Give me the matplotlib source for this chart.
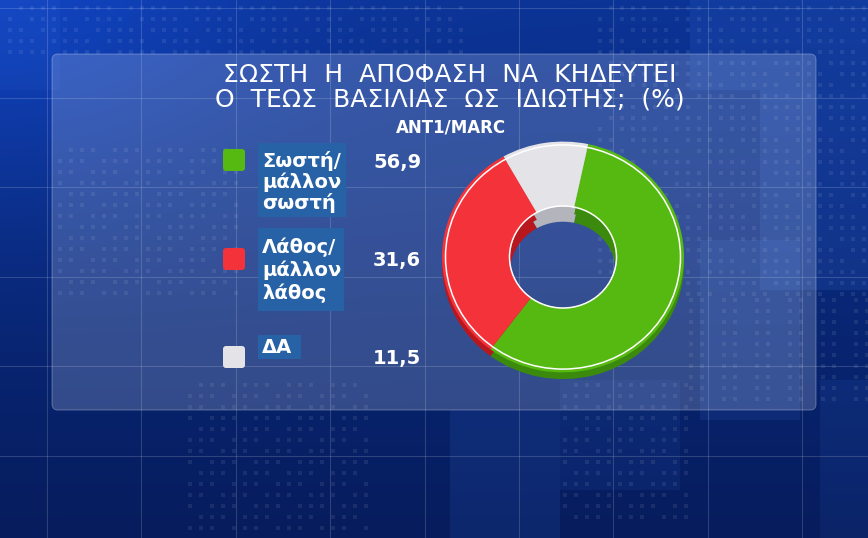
import numpy as np
import matplotlib
matplotlib.use('Agg')
import matplotlib.pyplot as plt
from matplotlib.patches import FancyBboxPatch, Rectangle, Circle

plt.rcParams['font.family'] = ['DejaVu Sans']

title_lines = ['ΣΩΣΤΗ  Η  ΑΠΟΦΑΣΗ  ΝΑ  ΚΗΔΕΥΤΕΙ', 'Ο  ΤΕΩΣ  ΒΑΣΙΛΙΑΣ  ΩΣ  ΙΔΙΩΤΗΣ;  (%)']
source = 'ANT1/MARC'
labels = [['Σωστή/', 'μάλλον', 'σωστή'], ['Λάθος/', 'μάλλον', 'λάθος'], ['ΔΑ']]
values = [56.9, 31.6, 11.5]
value_text = ['56,9', '31,6', '11,5']
colors = ['#55b912', '#f3323a', '#e4e4e8']
side_colors = ['#3b8a0d', '#b8171e', '#b4b4bc']

W, H = 868, 538
fig = plt.figure(figsize=(W / 100, H / 100), dpi=100)
bg = fig.add_axes([0, 0, 1, 1])
bg.set_xlim(0, W)
bg.set_ylim(H, 0)
bg.axis('off')

# background gradient
yy, xx = np.mgrid[0:H, 0:W]
top = np.array([12, 52, 150]) / 255
bot = np.array([6, 28, 92]) / 255
t = (yy / H)[..., None]
img = top * (1 - t) + bot * t
glow = np.exp(-((xx / 260.0) ** 2 + (yy / 200.0) ** 2))[..., None]
img = img + glow * np.array([0.02, 0.06, 0.16])
img = np.clip(img, 0, 1)
bg.imshow(img, extent=(0, W, H, 0), zorder=0, aspect='auto')

# lighter blocks
blocks = [(690, 0, 178, 90, 0.10), (760, 90, 108, 200, 0.12), (700, 240, 100, 180, 0.10),
          (450, 410, 110, 128, 0.10), (560, 380, 120, 110, 0.07), (820, 380, 48, 158, 0.08),
          (0, 0, 60, 90, 0.06)]
for bx, by, bw, bh, a in blocks:
    bg.add_patch(Rectangle((bx, by), bw, bh, fc=(0.3, 0.55, 1.0), alpha=a, ec='none', zorder=1))

# dot matrices
def dots(x0, x1, y0, y1, mod):
    xs = np.arange(x0, x1, 11)
    ys = np.arange(y0, y1, 11)
    px, py = [], []
    for i, x in enumerate(xs):
        for j, y in enumerate(ys):
            if (i * 7 + j * 3) % mod != 0:
                px.append(x)
                py.append(y)
    bg.scatter(px, py, s=9, marker='s', color='white', alpha=0.08, lw=0, zorder=1)

dots(10, 470, 8, 60, 5)
dots(60, 240, 150, 300, 4)
dots(190, 370, 385, 535, 4)
dots(565, 690, 385, 520, 4)
dots(600, 868, 8, 300, 5)
dots(680, 868, 300, 400, 3)

# grid lines
for gx in np.arange(47, W, 94.4):
    bg.axvline(gx, color='white', alpha=0.16, lw=0.8, zorder=1)
for gy in np.arange(8, H, 89.5):
    bg.axhline(gy, color='white', alpha=0.16, lw=0.8, zorder=1)

# panel
bg.add_patch(FancyBboxPatch((52, 54), 764, 356, boxstyle='round,pad=0,rounding_size=6',
                            fc=(0.85, 0.9, 1.0), alpha=0.21, ec='none', zorder=2))
bg.add_patch(FancyBboxPatch((52, 54), 764, 356, boxstyle='round,pad=0,rounding_size=6',
                            fc='none', ec=(1, 1, 1, 0.25), lw=0.8, zorder=2))

# titles
bg.text(450, 75, title_lines[0], ha='center', va='center', fontsize=18, color='white', zorder=5)
bg.text(450, 100, title_lines[1], ha='center', va='center', fontsize=18, color='white', zorder=5)
bg.text(451, 127, source, ha='center', va='center', fontsize=12, color='white',
        fontweight='bold', zorder=5)

# legend
box_rects = [(258, 143, 88, 74), (258, 228, 86, 83), (258, 335, 43, 24)]
square_y = [149, 248, 346]
baselines = [[167, 188, 209], [253, 276, 299], [353]]
value_y = [168, 266, 364]
for k in range(3):
    bx, by, bw, bh = box_rects[k]
    bg.add_patch(Rectangle((bx, by), bw, bh, fc='#2862a6', ec='none', zorder=3))
    bg.add_patch(FancyBboxPatch((223, square_y[k]), 22, 22,
                                boxstyle='round,pad=0,rounding_size=3',
                                fc=colors[k], ec='none', zorder=3))
    for line, yb in zip(labels[k], baselines[k]):
        bg.text(262, yb, line, ha='left', va='baseline', fontsize=14, color='white',
                fontweight='bold', zorder=5)
    bg.text(373, value_y[k], value_text[k], ha='left', va='baseline', fontsize=14,
            color='white', fontweight='bold', zorder=5)

# donut
cx, cy = 563, 257
ax = fig.add_axes([(cx - 130) / W, (H - cy - 124) / H, 260 / W, 248 / H])
R, r_in, depth = 121, 53, 7
start = 78
# inner wall, visible only through the hole
ax.pie(values, colors=side_colors, startangle=start, counterclock=False, radius=r_in + 20,
       center=(0, -16), wedgeprops=dict(width=20, edgecolor='none'))
# side (extrusion)
ax.pie(values, colors=side_colors, startangle=start, counterclock=False, radius=R,
       center=(0, -depth), wedgeprops=dict(width=R - r_in, edgecolor='none'))
# top surface
ax.pie(values, colors=colors, startangle=start, counterclock=False, radius=R,
       center=(0, 0), wedgeprops=dict(width=R - r_in, edgecolor='none'))
ax.add_patch(Circle((0, 0), R - 3.5, fc='none', ec='white', lw=1.1))
ax.add_patch(Circle((0, 0), r_in + 0.5, fc='none', ec='white', lw=1.1))
ax.set_xlim(-130, 130)
ax.set_ylim(-130, 130)
ax.set_aspect('auto')
ax.axis('off')

fig.savefig('out.png', dpi=100)
